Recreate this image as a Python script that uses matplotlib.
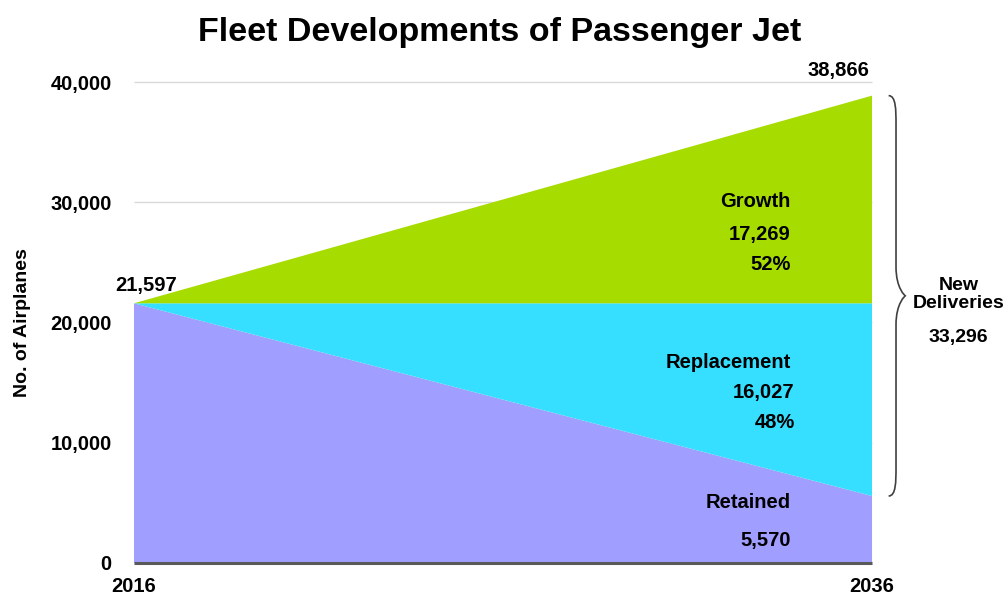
import matplotlib.pyplot as plt
import numpy as np
from matplotlib.path import Path
from matplotlib.patches import PathPatch

plt.rcParams["font.family"] = ["Liberation Sans", "DejaVu Sans"]
plt.rcParams["font.weight"] = "bold"

years = [2016, 2036]
retained = [21597, 5570]
replacement = [0, 16027]
growth = [0, 17269]
shares = {"Growth": "52%", "Replacement": "48%"}
new_deliveries = 33296

colors = {"Retained": "#a09eff", "Replacement": "#36dfff", "Growth": "#a6dc00"}

fig = plt.figure(figsize=(10.08, 5.96), dpi=100)
ax = fig.add_axes([0.1329, 0.0554, 0.864, 0.807])

ax.stackplot(years, retained, replacement, growth,
             colors=[colors["Retained"], colors["Replacement"], colors["Growth"]],
             linewidth=0, zorder=2)

ax.set_xlim(2016, 2039.6)
ax.set_ylim(0, 40000)
ax.hlines([10000, 20000, 30000, 40000], years[0], years[1], color="#d9d9d9", lw=1,
          zorder=1, clip_on=False)
ax.hlines(0, years[0], years[1], color="#595959", lw=2.2, zorder=3, clip_on=False)

for s in ax.spines.values():
    s.set_visible(False)
yt = [0, 10000, 20000, 30000, 40000]
ax.set_yticks(yt)
ax.set_yticklabels([f"{v:,}" for v in yt], fontsize=14.5)
ax.tick_params(axis="y", length=0, pad=16)
ax.set_xticks(years)
ax.set_xticklabels([str(y) for y in years], fontsize=14.5)
ax.tick_params(axis="x", length=0, pad=10)
ax.set_ylabel("No. of Airplanes", fontsize=14, fontweight="bold", labelpad=14)

fig.text(0.496, 0.945, "Fleet Developments of Passenger Jet", ha="center", va="center",
         fontsize=24.5)

fs = 14.5
total_start = retained[0]
total_end = retained[1] + replacement[1] + growth[1]
ax.text(years[0] - 0.5, total_start + 700, f"{total_start:,}", ha="left", va="bottom", fontsize=fs)
ax.text(years[1] - 0.9, total_end + 1300, f"{total_end:,}", ha="center", va="bottom", fontsize=fs)

# segment labels, right aligned near the end of each band
xr = 2033.8
ax.text(xr, 30100, "Growth", ha="right", va="center", fontsize=fs)
ax.text(xr, 27300, f"{growth[1]:,}", ha="right", va="center", fontsize=fs)
ax.text(xr, 24800, shares["Growth"], ha="right", va="center", fontsize=fs)
ax.text(xr, 16700, "Replacement", ha="right", va="center", fontsize=fs)
ax.text(xr + 0.1, 14200, f"{replacement[1]:,}", ha="right", va="center", fontsize=fs)
ax.text(xr + 0.1, 11700, shares["Replacement"], ha="right", va="center", fontsize=fs)
ax.text(xr, 5000, "Retained", ha="right", va="center", fontsize=fs)
ax.text(xr, 1850, f"{retained[1]:,}", ha="right", va="center", fontsize=fs)

# curly brace spanning the new deliveries
y0, y1 = retained[1], total_end
ym = (y0 + y1) / 2
xe, xs, xt = 2036.45, 2036.65, 2036.9
c = 1200
verts = [(xe, y1), (xs, y1), (xs, y1 - c), (xs, y1 - 2 * c),
         (xs, ym + 2 * c),
         (xs, ym + c * 0.5), (xt, ym), (xt, ym),
         (xt, ym), (xs, ym - c * 0.5), (xs, ym - 2 * c),
         (xs, y0 + 2 * c),
         (xs, y0 + c), (xs, y0), (xe, y0)]
codes = [Path.MOVETO, Path.CURVE4, Path.CURVE4, Path.CURVE4,
         Path.LINETO,
         Path.CURVE4, Path.CURVE4, Path.CURVE4,
         Path.CURVE4, Path.CURVE4, Path.CURVE4,
         Path.LINETO,
         Path.CURVE4, Path.CURVE4, Path.CURVE4]
ax.add_patch(PathPatch(Path(verts, codes), fill=False, edgecolor="#404040", lw=1.2,
                       clip_on=False, zorder=4))

ax.text(2038.35, ym + 100, "New\nDeliveries", ha="center", va="center", fontsize=14,
        linespacing=1.1)
ax.text(2038.35, ym - 3500, f"{new_deliveries:,}", ha="center", va="center", fontsize=14)

fig.savefig("out.png", dpi=100)
